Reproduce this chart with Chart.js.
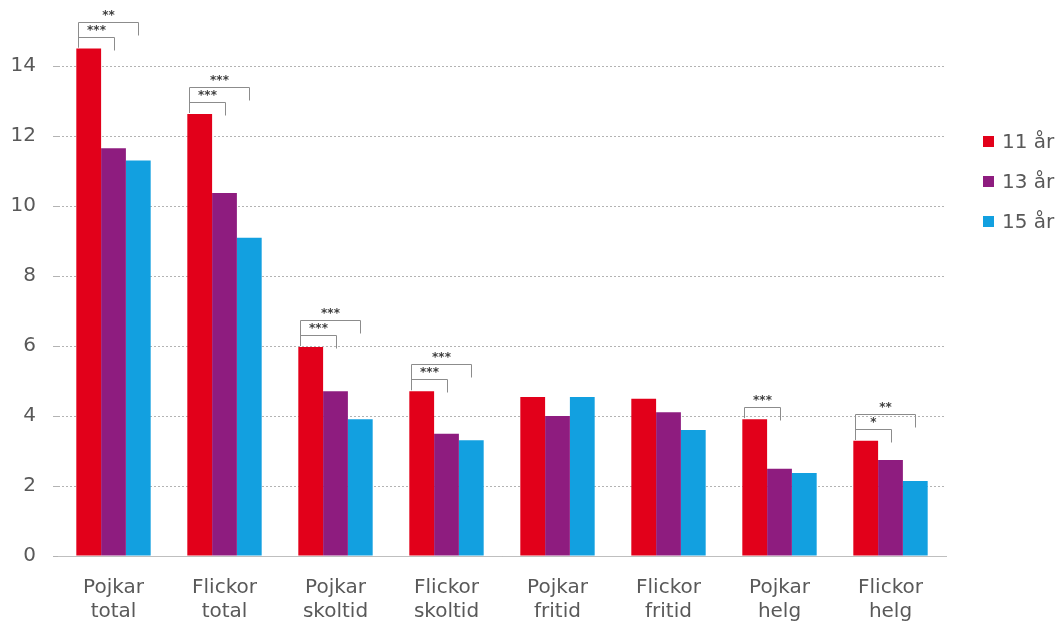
<!DOCTYPE html>
<html>
<head>
<meta charset="utf-8">
<script src="https://cdn.jsdelivr.net/npm/chart.js@4.4.1/dist/chart.umd.min.js"></script>
<style>
  body { margin: 0; background: #fff; }
  #wrap { position: relative; width: 1061px; height: 627px; }
  #legend { position: absolute; left: 983px; top: 129px; font: 20px "DejaVu Sans", sans-serif; color: #595959; }
  #legend div { height: 40px; line-height: 24px; white-space: nowrap; }
  #legend span { display: inline-block; width: 11px; height: 11px; margin-right: 8px; vertical-align: 1px; }
</style>
</head>
<body>
<div id="wrap">
  <canvas id="myChart" width="1061" height="627"></canvas>
  <div id="legend"></div>
</div>
<script>
// categories and values
const categories = [
    ['Pojkar', 'total'], ['Flickor', 'total'], ['Pojkar', 'skoltid'], ['Flickor', 'skoltid'],
    ['Pojkar', 'fritid'], ['Flickor', 'fritid'], ['Pojkar', 'helg'], ['Flickor', 'helg']
];
const seriesNames = ['11 år', '13 år', '15 år'];
const age11 = [14.5, 12.63, 5.97, 4.71, 4.54, 4.49, 3.91, 3.29];
const age13 = [11.65, 10.37, 4.71, 3.49, 4.0, 4.11, 2.49, 2.74];
const age15 = [11.3, 9.09, 3.91, 3.31, 4.54, 3.6, 2.37, 2.14];
const yTicks = [0, 2, 4, 6, 8, 10, 12, 14];
const colors = ['#e2001a', '#8e1c7f', '#12a0e0'];

// significance brackets: [category, from series, to series, level, label]
const sigBrackets = [
    [0, 0, 1, 0, '***'], [0, 0, 2, 1, '**'],
    [1, 0, 1, 0, '***'], [1, 0, 2, 1, '***'],
    [2, 0, 1, 0, '***'], [2, 0, 2, 1, '***'],
    [3, 0, 1, 0, '***'], [3, 0, 2, 1, '***'],
    [6, 0, 1, 0, '***'],
    [7, 0, 1, 0, '*'], [7, 0, 2, 1, '**']
];

const bracketPlugin = {
    id: 'brackets',
    afterDatasetsDraw(chart) {
        const c = chart.ctx;
        c.save();
        c.strokeStyle = '#8c8c8c';
        c.lineWidth = 1;
        c.fillStyle = '#404040';
        c.font = 'bold 12px "DejaVu Sans", sans-serif';
        c.textAlign = 'center';
        c.textBaseline = 'middle';
        sigBrackets.forEach(function (b) {
            const from = chart.getDatasetMeta(b[1]).data[b[0]];
            const to = chart.getDatasetMeta(b[2]).data[b[0]];
            const x1 = Math.round(from.x - from.width / 2 + 2) + 0.5;
            const x2 = Math.round(to.x) + 0.5;
            const top = from.y;
            const y = Math.round(top - 12 - b[3] * 15) + 0.5;
            c.beginPath();
            c.moveTo(x1, top - 1);
            c.lineTo(x1, y);
            c.lineTo(x2, y);
            c.lineTo(x2, y + 13);
            c.stroke();
            c.fillText(b[4], (x1 + x2) / 2, y - 7);
        });
        c.restore();
    }
};

const ctx = document.getElementById('myChart');
const myChart = new Chart(ctx, {
    type: 'bar',
    data: {
        labels: categories,
        datasets: [age11, age13, age15].map(function (d, i) {
            return {
                label: seriesNames[i],
                data: d,
                backgroundColor: colors[i],
                borderWidth: 0,
                categoryPercentage: 0.67,
                barPercentage: 1.0
            };
        })
    },
    options: {
        responsive: false,
        animation: false,
        layout: { padding: { top: 0, right: 115, bottom: 0, left: 0 } },
        plugins: {
            legend: { display: false },
            tooltip: { enabled: false }
        },
        scales: {
            x: {
                grid: { display: false },
                border: { display: true, color: '#bfbfbf' },
                ticks: {
                    color: '#595959',
                    padding: 12,
                    font: { family: 'DejaVu Sans', size: 20, lineHeight: 1.2 },
                    maxRotation: 0
                },
                afterFit(axis) {
                    axis.height = 71;
                    axis.paddingLeft = 0;
                    axis.paddingRight = 0;
                }
            },
            y: {
                min: 0,
                max: 556 / 35,
                afterBuildTicks(axis) {
                    axis.ticks = yTicks.map(function (v) { return { value: v }; });
                },
                grid: { color: '#b3b3b3', tickLength: 5 },
                border: { display: false, dash: [2, 2] },
                ticks: {
                    color: '#595959',
                    padding: 17,
                    font: { family: 'DejaVu Sans', size: 20 }
                },
                afterFit(axis) {
                    axis.width = 58;
                    axis.paddingTop = 0;
                    axis.paddingBottom = 0;
                }
            }
        }
    },
    plugins: [bracketPlugin]
});

// legend
const legend = document.getElementById('legend');
seriesNames.forEach(function (name, i) {
    const row = document.createElement('div');
    row.innerHTML = '<span style="background:' + colors[i] + '"></span>' + name;
    legend.appendChild(row);
});
</script>
</body>
</html>
